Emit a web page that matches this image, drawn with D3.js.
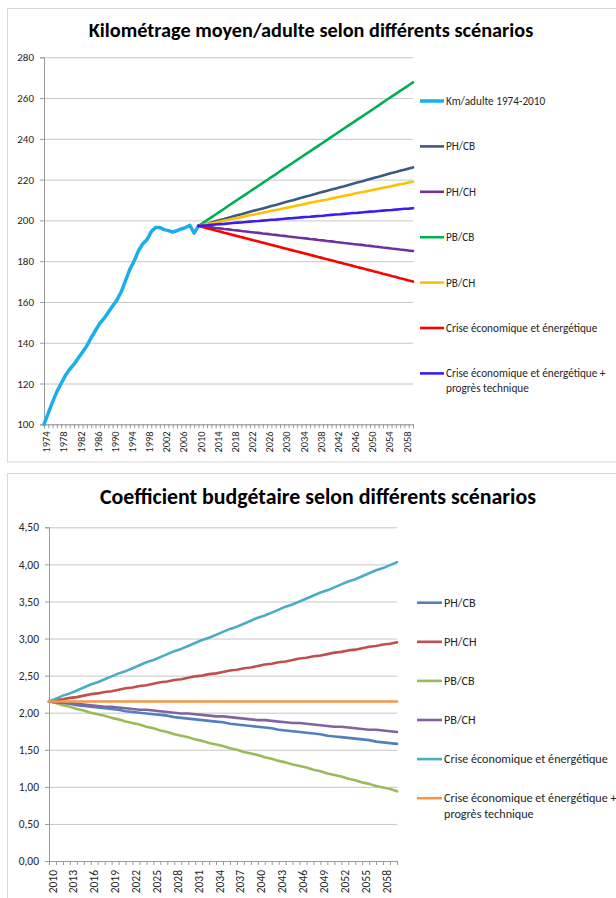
<!DOCTYPE html>
<html><head><meta charset="utf-8">
<script src="https://cdn.jsdelivr.net/npm/d3@7"></script>
<style>body{margin:0;background:#fff} svg{display:block}</style>
</head><body><svg id="c" width="616" height="898"></svg>
<script>
// ---------- DATA ----------
const topCategories = d3.range(1974, 2061);          // 1974..2060
const scenarioYears = d3.range(2010, 2061);          // 2010..2060
const histYears = d3.range(1974, 2011);              // 1974..2010
const topYTicks = [100,120,140,160,180,200,220,240,260,280];
const topXLabels = [1974,1978,1982,1986,1990,1994,1998,2002,2006,2010,2014,2018,2022,2026,2030,2034,2038,2042,2046,2050,2054,2058];

const kmHist = [100,105.5,111,116,120,124,127,129.5,132.5,135.5,138.5,142.5,146,149.5,152,155,158,161,165,170.5,176,180,185,188.5,190.5,194.5,196.5,196.5,195.5,195,194.3,195,195.8,196.5,197.6,193.8,197.3];

const topPHCB = [197.3,197.9,198.4,199.0,199.6,200.2,200.7,201.3,201.9,202.5,203.0,203.6,204.2,204.8,205.3,205.9,206.5,207.1,207.6,208.2,208.8,209.4,209.9,210.5,211.1,211.7,212.2,212.8,213.4,214.0,214.5,215.1,215.7,216.3,216.8,217.4,218.0,218.6,219.1,219.7,220.3,220.9,221.4,222.0,222.6,223.2,223.7,224.3,224.9,225.4,226.0];
const topPHCH = [197.3,197.1,196.8,196.6,196.3,196.1,195.8,195.6,195.3,195.1,194.8,194.6,194.3,194.1,193.9,193.6,193.4,193.1,192.9,192.6,192.4,192.1,191.9,191.6,191.4,191.2,190.9,190.7,190.4,190.2,189.9,189.7,189.4,189.2,188.9,188.7,188.4,188.2,188.0,187.7,187.5,187.2,187.0,186.7,186.5,186.2,186.0,185.7,185.5,185.2,185.0];
const topPBCB = [197.3,198.7,200.1,201.5,202.9,204.3,205.7,207.2,208.6,210.0,211.4,212.8,214.2,215.6,217.0,218.4,219.8,221.2,222.6,224.1,225.5,226.9,228.3,229.7,231.1,232.5,233.9,235.3,236.7,238.1,239.5,241.0,242.4,243.8,245.2,246.6,248.0,249.4,250.8,252.2,253.6,255.0,256.4,257.9,259.3,260.7,262.1,263.5,264.9,266.3,267.7];
const topPBCH = [197.3,197.7,198.2,198.6,199.0,199.5,199.9,200.3,200.8,201.2,201.6,202.1,202.5,202.9,203.4,203.8,204.2,204.7,205.1,205.5,206.0,206.4,206.8,207.3,207.7,208.2,208.6,209.0,209.5,209.9,210.3,210.8,211.2,211.6,212.1,212.5,212.9,213.4,213.8,214.2,214.7,215.1,215.5,216.0,216.4,216.8,217.3,217.7,218.1,218.6,219.0];
const topCrise = [197.3,196.8,196.2,195.7,195.1,194.6,194.0,193.5,192.9,192.4,191.8,191.3,190.7,190.2,189.7,189.1,188.6,188.0,187.5,186.9,186.4,185.8,185.3,184.7,184.2,183.7,183.1,182.6,182.0,181.5,180.9,180.4,179.8,179.3,178.7,178.2,177.7,177.1,176.6,176.0,175.5,174.9,174.4,173.8,173.3,172.7,172.2,171.6,171.1,170.5,170.0];
const topCrisePlus = [197.3,197.5,197.6,197.8,198.0,198.2,198.3,198.5,198.7,198.9,199.0,199.2,199.4,199.6,199.7,199.9,200.1,200.3,200.4,200.6,200.8,201.0,201.1,201.3,201.5,201.7,201.8,202.0,202.2,202.3,202.5,202.7,202.9,203.0,203.2,203.4,203.6,203.7,203.9,204.1,204.3,204.4,204.6,204.8,205.0,205.1,205.3,205.5,205.7,205.8,206.0];

const topNames = ["Km/adulte 1974-2010","PH/CB","PH/CH","PB/CB","PB/CH","Crise économique et énergétique","Crise économique et énergétique + progrès technique"];
const topColors = ["#1AAFEA","#3A5A84","#7030A0","#00B050","#FFC000","#FF0000","#3A1CF5"];

const botYTicks = [0,0.5,1,1.5,2,2.5,3,3.5,4,4.5];
const botXLabels = [2010,2013,2016,2019,2022,2025,2028,2031,2034,2037,2040,2043,2046,2049,2052,2055,2058];

const botPHCB = [2.15,2.14,2.13,2.12,2.10,2.09,2.08,2.07,2.06,2.05,2.04,2.02,2.01,2.00,1.99,1.98,1.97,1.96,1.94,1.93,1.92,1.91,1.90,1.89,1.88,1.87,1.85,1.84,1.83,1.82,1.81,1.80,1.79,1.77,1.76,1.75,1.74,1.73,1.72,1.71,1.69,1.68,1.67,1.66,1.65,1.64,1.63,1.61,1.60,1.59,1.58];
const botPHCH = [2.15,2.17,2.18,2.20,2.21,2.23,2.25,2.26,2.28,2.29,2.31,2.33,2.34,2.36,2.37,2.39,2.41,2.42,2.44,2.45,2.47,2.49,2.50,2.52,2.53,2.55,2.57,2.58,2.60,2.61,2.63,2.65,2.66,2.68,2.69,2.71,2.73,2.74,2.76,2.77,2.79,2.81,2.82,2.84,2.85,2.87,2.89,2.90,2.92,2.93,2.95];
const botPBCB = [2.15,2.13,2.10,2.08,2.05,2.03,2.00,1.98,1.96,1.93,1.91,1.88,1.86,1.84,1.81,1.79,1.76,1.74,1.71,1.69,1.67,1.64,1.62,1.59,1.57,1.55,1.52,1.50,1.47,1.45,1.43,1.40,1.38,1.35,1.33,1.30,1.28,1.26,1.23,1.21,1.18,1.16,1.14,1.11,1.09,1.06,1.04,1.01,0.99,0.97,0.94];
const botPBCH = [2.15,2.14,2.13,2.13,2.12,2.11,2.10,2.09,2.08,2.08,2.07,2.06,2.05,2.04,2.04,2.03,2.02,2.01,2.00,1.99,1.99,1.98,1.97,1.96,1.95,1.95,1.94,1.93,1.92,1.91,1.90,1.90,1.89,1.88,1.87,1.86,1.86,1.85,1.84,1.83,1.82,1.81,1.81,1.80,1.79,1.78,1.77,1.77,1.76,1.75,1.74];
const botCrise = [2.15,2.19,2.23,2.26,2.30,2.34,2.38,2.41,2.45,2.49,2.53,2.56,2.60,2.64,2.68,2.71,2.75,2.79,2.83,2.86,2.90,2.94,2.98,3.01,3.05,3.09,3.13,3.16,3.20,3.24,3.28,3.31,3.35,3.39,3.43,3.46,3.50,3.54,3.58,3.62,3.65,3.69,3.73,3.77,3.80,3.84,3.88,3.92,3.95,3.99,4.03];
const botCrisePlus = [2.15,2.15,2.15,2.15,2.15,2.15,2.15,2.15,2.15,2.15,2.15,2.15,2.15,2.15,2.15,2.15,2.15,2.15,2.15,2.15,2.15,2.15,2.15,2.15,2.15,2.15,2.15,2.15,2.15,2.15,2.15,2.15,2.15,2.15,2.15,2.15,2.15,2.15,2.15,2.15,2.15,2.15,2.15,2.15,2.15,2.15,2.15,2.15,2.15,2.15,2.15];

const botNames = ["PH/CB","PH/CH","PB/CB","PB/CH","Crise économique et énergétique","Crise économique et énergétique + progrès technique"];
const botColors = ["#4F81BD","#C0504D","#9BBB59","#8064A2","#4BACC6","#F79646"];

// ---------- DRAW ----------
const FONT = "Carlito, Lato, 'Open Sans', sans-serif";
const svg = d3.select("#c");
const GRID = "#C6C6C6", AXIS = "#9A9A9A", TXT = "#262626";

function fitWidth(sel, target){
  const w = sel.node().getComputedTextLength();
  const fs = parseFloat(sel.style("font-size"));
  sel.style("font-size", (fs*target/w) + "px");
}

// panel frames
svg.append("rect").attr("x",7.5).attr("y",8.5).attr("width",640).attr("height",453.5)
  .attr("fill","#fff").attr("stroke","#D9D9D9");
svg.append("rect").attr("x",7.5).attr("y",473.5).attr("width",640).attr("height",460)
  .attr("fill","#fff").attr("stroke","#D9D9D9");

function drawChart(cfg){
  const g = svg.append("g");
  const x = d3.scaleLinear().domain(cfg.xDomain).range(cfg.xRange);
  const y = d3.scaleLinear().domain(cfg.yDomain).range(cfg.yRange);
  // gridlines
  g.append("g").attr("transform",`translate(${cfg.xRange[0]},0)`)
    .call(d3.axisLeft(y).tickValues(cfg.yTicks).tickSize(-(cfg.xRange[1]-cfg.xRange[0])).tickFormat(""))
    .call(a=>a.select(".domain").remove())
    .call(a=>a.selectAll("line").attr("stroke",GRID).attr("stroke-width",1));
  // y axis
  const ya = g.append("g").attr("transform",`translate(${cfg.xRange[0]},0)`)
    .call(d3.axisLeft(y).tickValues(cfg.yTicks).tickSize(4).tickPadding(cfg.yPad).tickFormat(cfg.yFmt));
  ya.select(".domain").attr("stroke",AXIS);
  ya.selectAll("line").attr("stroke",AXIS);
  ya.selectAll("text").attr("fill",TXT).style("font-family",FONT).style("font-size",cfg.yFont+"px");
  // x axis
  const xa = g.append("g").attr("transform",`translate(0,${cfg.yRange[0]})`)
    .call(d3.axisBottom(x).tickValues(cfg.categories).tickSize(4)
      .tickFormat(d=>cfg.xLabels.includes(d)?String(d):""));
  xa.select(".domain").attr("stroke",AXIS);
  xa.selectAll("line").attr("stroke",AXIS);
  xa.selectAll("text").attr("fill",TXT).style("font-family",FONT).style("font-size",cfg.xFont+"px")
    .attr("transform","rotate(-90)").attr("text-anchor","end")
    .attr("x",-cfg.xLabOff).attr("y",cfg.xLabShift).attr("dy","0.35em");
  // lines
  const line = d3.line().x(d=>x(d[0])).y(d=>y(d[1]));
  cfg.series.forEach((s,i)=>{
    g.append("path").datum(s.years.map((yr,j)=>[yr,s.values[j]]))
      .attr("d",line).attr("fill","none").attr("stroke",s.color)
      .attr("stroke-width",s.width).attr("stroke-linejoin","round").attr("stroke-linecap","round");
  });
  // title
  const t = svg.append("text").attr("x",cfg.titleX).attr("y",cfg.titleY).attr("text-anchor","middle")
    .attr("fill","#000").style("font-family",FONT).style("font-weight","bold").style("font-size","20px")
    .text(cfg.title);
  fitWidth(t, cfg.titleW);
  // legend
  const lg = svg.append("g");
  let fs = null;
  cfg.legend.forEach((it,i)=>{
    const yy = cfg.legY0 + i*cfg.legStep;
    lg.append("line").attr("x1",cfg.legX).attr("x2",cfg.legX+cfg.legLen).attr("y1",yy).attr("y2",yy)
      .attr("stroke",it.color).attr("stroke-width",it.width);
    const tx = lg.append("text").attr("x",cfg.legX+cfg.legLen+2).attr("y",yy).attr("dy","0.35em")
      .attr("fill",TXT).style("font-family",FONT).style("font-size","11px");
    const lines = it.name.includes(" + ") ? [it.name.split(" + ")[0]+" +", it.name.split(" + ")[1]] : [it.name];
    lines.forEach((ln,k)=>{
      tx.append("tspan").attr("x",cfg.legX+cfg.legLen+2).attr("dy",k===0?"0.35em":cfg.legLineH+"px").text(ln);
    });
  });
  // fit legend font to reference width of the "Crise économique et énergétique" line
  const probe = lg.append("text").style("font-family",FONT).style("font-size","11px").text(cfg.legend[cfg.legend.length-2].name);
  const w = probe.node().getComputedTextLength(); probe.remove();
  lg.selectAll("text").style("font-size",(11*cfg.legRefW/w)+"px");
}

drawChart({
  xDomain:[1974,2060], xRange:[44,413], yDomain:[100,280], yRange:[424.3,57.3],
  yTicks: topYTicks, yFmt: d=>String(d), yPad:6, yFont:11, xFont:10.5, xLabOff:7, xLabShift:2,
  categories: topCategories, xLabels: topXLabels,
  series: [
    {years:histYears, values:kmHist, color:topColors[0], width:3.5},
    {years:scenarioYears, values:topPHCB, color:topColors[1], width:2.6},
    {years:scenarioYears, values:topPHCH, color:topColors[2], width:2.6},
    {years:scenarioYears, values:topPBCB, color:topColors[3], width:2.6},
    {years:scenarioYears, values:topPBCH, color:topColors[4], width:2.6},
    {years:scenarioYears, values:topCrise, color:topColors[5], width:2.6},
    {years:scenarioYears, values:topCrisePlus, color:topColors[6], width:2.6}
  ],
  title:"Kilométrage moyen/adulte selon différents scénarios", titleX:311, titleY:37, titleW:445,
  legend: topNames.map((n,i)=>({name:n,color:topColors[i],width:i===0?3.5:2.6})),
  legX:420, legLen:24, legY0:101, legStep:45.4, legLineH:15, legRefW:151.5
});

drawChart({
  xDomain:[2010,2060], xRange:[49,397], yDomain:[0,4.5], yRange:[861,527.3],
  yTicks: botYTicks, yFmt: d=>d3.format(".2f")(d).replace(".",","), yPad:6, yFont:11.5, xFont:11.5, xLabOff:9, xLabShift:3,
  categories: scenarioYears, xLabels: botXLabels,
  series: botNames.map((n,i)=>({years:scenarioYears, values:[botPHCB,botPHCH,botPBCB,botPBCH,botCrise,botCrisePlus][i], color:botColors[i], width:2.6})),
  title:"Coefficient budgétaire selon différents scénarios", titleX:318, titleY:504, titleW:436,
  legend: botNames.map((n,i)=>({name:n,color:botColors[i],width:2.6})),
  legX:417, legLen:25, legY0:602.7, legStep:39.1, legLineH:16, legRefW:164
});
</script></body></html>
